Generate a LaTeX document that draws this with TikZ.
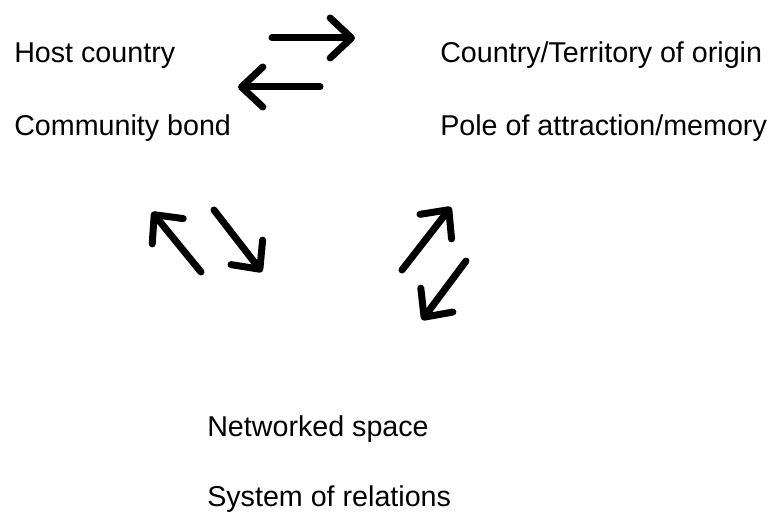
\documentclass[tikz,border=0pt]{standalone}
\usepackage{fontspec}
\setmainfont{Liberation Sans}
\usetikzlibrary{arrows.meta}

\begin{document}
\begin{tikzpicture}[x=0.75pt, y=-0.75pt,
          term/.style={anchor=base west, inner sep=0pt, font=\fontsize{21.5pt}{26pt}\selectfont},
          flow/.style={-{Straight Barb[length=16pt, width=30pt, round]}, line width=5.25pt, line cap=round, color=black}]

        \useasboundingbox (0,0) rectangle (776,513);

        \node [term] (host) at (14,63) {Host country};
        \node [term] (community) at (14,136) {Community bond};
        \node [term] (origin) at (440,63) {Country/Territory of origin};
        \node [term] (pole) at (440,136) {Pole of attraction/memory};
        \node [term] (network) at (207,437) {Networked space};
        \node [term] (relations) at (207,507) {System of relations};

        % free ends of the arrows
        \coordinate (go0) at (272,38);   \coordinate (go1) at (355,38);
        \coordinate (back0) at (320,87); \coordinate (back1) at (238,87);
        \coordinate (up0) at (201,272);  \coordinate (up1) at (152,212);
        \coordinate (down0) at (214,210); \coordinate (down1) at (262,272);
        \coordinate (rise0) at (402,270); \coordinate (rise1) at (451,207);
        \coordinate (fall0) at (466,261); \coordinate (fall1) at (422,320);

        \draw [flow] (go0) -- (go1);
        \draw [flow] (back0) -- (back1);
        \draw [flow] (up0) -- (up1);
        \draw [flow] (down0) -- (down1);
        \draw [flow] (rise0) -- (rise1);
        \draw [flow] (fall0) -- (fall1);
      \end{tikzpicture}
\end{document}
